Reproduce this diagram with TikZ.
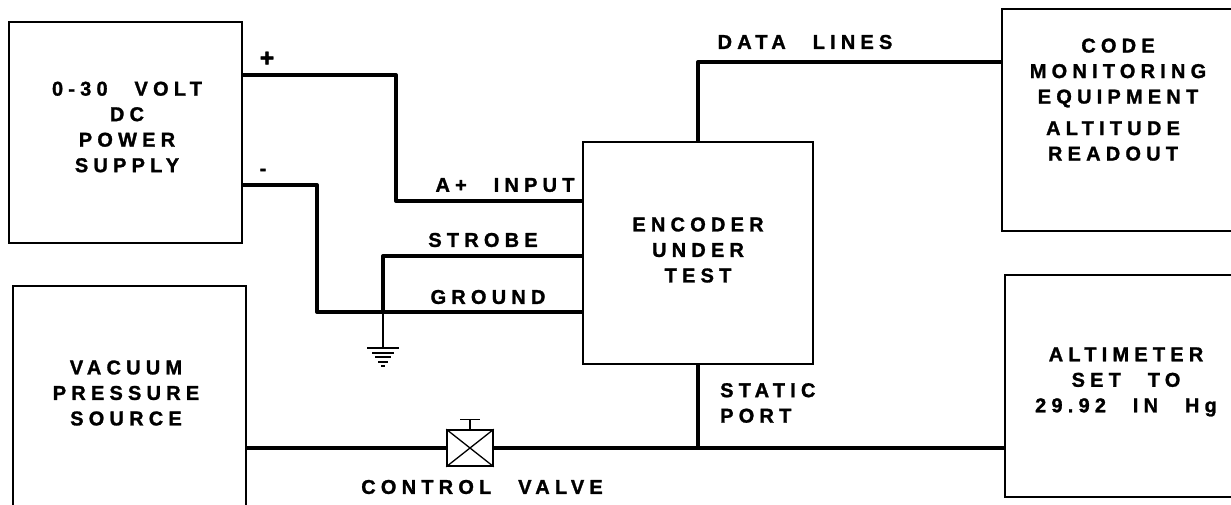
\documentclass[tikz,border=0pt]{standalone}
\usepackage{fontspec}
\setmainfont{Liberation Sans}[LetterSpace=26, WordSpace=2.5, BoldFeatures={FakeBold=1.3}]
\usetikzlibrary{positioning,calc}

\begin{document}
\begin{tikzpicture}[x=1pt, y=-1pt,
    box/.style={draw, rectangle, line width=1.5pt, inner sep=0pt},
    wire/.style={line width=4pt, line join=round},
    lbl/.style={inner sep=0pt, align=center, font=\fontsize{20}{25.5}\selectfont\bfseries}]
				\useasboundingbox (0,0) rectangle (1231,505);
				
				% Draw equipment boxes
				\node[box, minimum width=233pt, minimum height=221pt] (supply) at (125.5,132.5) {};
				\node[box, minimum width=233pt, minimum height=234pt] (vacuum) at (129.5,403) {};
				\node[box, minimum width=230pt, minimum height=222pt] (encoder) at (698,253) {};
				\node[box, minimum width=238pt, minimum height=222pt] (monitor) at (1121,120) {};
				\node[box, minimum width=235pt, minimum height=222pt] (altimeter) at (1122.5,386) {};
				
				% Box texts
				\node[lbl] (supplytxt) at (127,127) {0-30 VOLT\\DC\\POWER\\SUPPLY};
				\node[lbl] (vacuumtxt) at (126,393) {VACUUM\\PRESSURE\\SOURCE};
				\node[lbl] (encodertxt) at (698,250) {ENCODER\\UNDER\\TEST};
				\node[lbl] (monitortxt) at (1118,73) {CODE\\MONITORING\\EQUIPMENT};
				\node[lbl] (readouttxt) at (1113,141) {ALTITUDE\\READOUT};
				\node[lbl] (altimetertxt) at (1126,382) {ALTIMETER\\SET TO\\29.92 IN Hg};
				
				% Draw power and signal wires
				\draw[wire] (supply.east |- 0,75) -| (396,201) -- (encoder.west |- 0,201);
				\draw[wire] (supply.east |- 0,185) -| (317,312) -- (encoder.west |- 0,312);
				\coordinate (gndtap) at (383,312);
				\draw[wire] (encoder.west |- 0,256) -| (gndtap);
				\draw[wire] (encoder.north) |- (monitor.west |- 0,62);
				
				% Draw ground symbol
				\coordinate (gnd) at (383,348);
				\draw[line width=1.3pt] (gndtap) -- (gnd);
				\draw[line width=1.3pt] ($(gnd)+(-16,0)$) -- ($(gnd)+(16,0)$);
				\draw[line width=1.3pt] ($(gnd)+(-11,5)$) -- ($(gnd)+(11,5)$);
				\draw[line width=1.3pt] ($(gnd)+(-8,9)$) -- ($(gnd)+(8,9)$);
				\draw[line width=1.3pt] ($(gnd)+(-5,14)$) -- ($(gnd)+(5,14)$);
				\draw[line width=1.3pt] ($(gnd)+(-2,18)$) -- ($(gnd)+(2,18)$);
				
				% Draw vacuum line with control valve
				\node[box, minimum width=46pt, minimum height=36pt] (valve) at (470,448) {};
				\draw[line width=1.3pt] (valve.north west) -- (valve.south east);
				\draw[line width=1.3pt] (valve.south west) -- (valve.north east);
				\draw[line width=1.5pt] (valve.north) -- ++(0,-10) coordinate (stem);
				\draw[line width=1.5pt] ($(stem)+(-10,0)$) -- ($(stem)+(10,0)$);
				\draw[wire] (vacuum.east |- valve) -- (valve.west);
				\draw[wire] (valve.east) -- (altimeter.west |- valve);
				\draw[wire] (encoder.south) -- (encoder.south |- valve);
				
				% Wire labels
				\node[lbl, font=\fontsize{25}{25}\selectfont\bfseries] (plus) at (267,59) {+};
				\node[lbl] (minus) at (263,172) {-};
				\node[lbl] (ainput) at (505,185) {A+ INPUT};
				\node[lbl] (strobe) at (483,240) {STROBE};
				\node[lbl] (ground) at (488,297) {GROUND};
				\node[lbl] (datalines) at (805,42) {DATA LINES};
				\node[lbl, align=left, anchor=west] (static) at (720,403) {STATIC\\PORT};
				\node[lbl] (ctrlvalve) at (482,487) {CONTROL VALVE};
			\end{tikzpicture}
\end{document}
